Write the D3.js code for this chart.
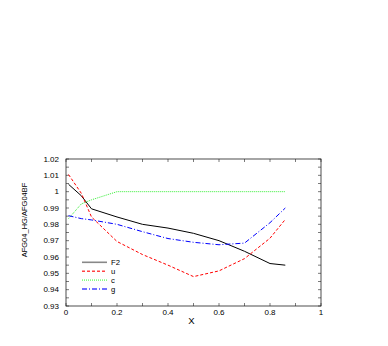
<!DOCTYPE html>
<html>
<head>
<meta charset="utf-8">
<script src="https://cdn.jsdelivr.net/npm/d3@7"></script>
<style>
  body { margin: 0; background: #fff; }
  svg text { font-family: "Liberation Sans", Arial, sans-serif; fill: #000; }
</style>
</head>
<body>
<div id="chart"></div>
<script>
// x positions of the computed points
const xVals = [0.01, 0.06, 0.1, 0.2, 0.3, 0.4, 0.5, 0.6, 0.7, 0.8, 0.86];

const f2 = [1.0045, 0.9975, 0.9895, 0.9845, 0.980, 0.9777, 0.9745, 0.970, 0.9635, 0.956, 0.955];
const uVals = [1.0105, 0.999, 0.9845, 0.9695, 0.9615, 0.955, 0.948, 0.9515, 0.959, 0.9715, 0.983];
const cVals = [0.9835, 0.9925, 0.995, 1.0, 1.0, 1.0, 1.0, 1.0, 1.0, 1.0, 1.0];
const gVals = [0.9853, 0.9835, 0.9827, 0.980, 0.9755, 0.9713, 0.969, 0.9675, 0.9685, 0.981, 0.990];

const xTicks = [0, 0.2, 0.4, 0.6, 0.8, 1];
const yTicks = [0.93, 0.94, 0.95, 0.96, 0.97, 0.98, 0.99, 1.0, 1.01, 1.02];

const series = [
  { name: "F2", values: f2, color: "#000000", legendColor: "#888", dash: null },
  { name: "u", values: uVals, color: "#ff0000", legendColor: "#ff4444", dash: "3,2" },
  { name: "c", values: cVals, color: "#33ee33", legendColor: "#88ff88", dash: "1,1" },
  { name: "g", values: gVals, color: "#0000ff", legendColor: "#4444ff", dash: "5,2,1,2" }
];

const width = 388, height = 346;
const plot = { left: 66, right: 321, top: 159, bottom: 306 };

const svg = d3.select("#chart").append("svg")
  .attr("width", width)
  .attr("height", height);

const x = d3.scaleLinear().domain([0, 1]).range([plot.left, plot.right]);
const y = d3.scaleLinear().domain([0.93, 1.02]).range([plot.bottom, plot.top]);

// frame
svg.append("rect")
  .attr("x", plot.left).attr("y", plot.top)
  .attr("width", plot.right - plot.left).attr("height", plot.bottom - plot.top)
  .attr("fill", "none").attr("stroke", "#222").attr("stroke-width", 0.8);

// inward ticks on all four sides
const xMinor = d3.range(0, 11).map(i => i / 10);
const yMinor = d3.range(0, 19).map(i => 0.93 + i * 0.005);

const tickG = svg.append("g").attr("stroke", "#222").attr("stroke-width", 0.6);
xMinor.forEach(v => {
  tickG.append("line").attr("x1", x(v)).attr("x2", x(v)).attr("y1", plot.bottom).attr("y2", plot.bottom - 3);
  tickG.append("line").attr("x1", x(v)).attr("x2", x(v)).attr("y1", plot.top).attr("y2", plot.top + 3);
});
yMinor.forEach(v => {
  tickG.append("line").attr("x1", plot.left).attr("x2", plot.left + 3).attr("y1", y(v)).attr("y2", y(v));
  tickG.append("line").attr("x1", plot.right).attr("x2", plot.right - 3).attr("y1", y(v)).attr("y2", y(v));
});

// tick labels
svg.append("g").selectAll("text")
  .data(xTicks)
  .enter()
  .append("text")
  .attr("x", d => x(d))
  .attr("y", plot.bottom + 8.5)
  .attr("text-anchor", "middle")
  .attr("font-size", 8)
  .text(d => d3.format("~g")(d));

svg.append("g").selectAll("text")
  .data(yTicks)
  .enter()
  .append("text")
  .attr("x", plot.left - 7)
  .attr("y", d => y(d) + 2.8)
  .attr("text-anchor", "end")
  .attr("font-size", 8)
  .text(d => d3.format("~g")(d));

// axis titles
svg.append("text")
  .attr("x", 191.5).attr("y", 323.5)
  .attr("text-anchor", "middle")
  .attr("font-size", 9.5)
  .text("X");

svg.append("text")
  .attr("transform", "translate(26.5,220) rotate(-90)")
  .attr("text-anchor", "middle")
  .attr("font-size", 7.5)
  .text("AFG04_HG/AFG04BF");

// curves
const line = d3.line()
  .x((d, i) => x(xVals[i]))
  .y(d => y(d));

svg.append("g").selectAll("path")
  .data(series)
  .enter()
  .append("path")
  .attr("d", d => line(d.values))
  .attr("fill", "none")
  .attr("stroke", d => d.color)
  .attr("stroke-width", 1)
  .attr("stroke-dasharray", d => d.dash);

// legend
const legend = svg.append("g").selectAll("g")
  .data(series)
  .enter()
  .append("g")
  .attr("transform", (d, i) => `translate(82,${262.3 + i * 8.9})`);

legend.append("line")
  .attr("x1", 0).attr("x2", 25)
  .attr("stroke", d => d.legendColor)
  .attr("stroke-width", 1.6)
  .attr("stroke-dasharray", d => d.dash);

legend.append("text")
  .attr("x", 29).attr("y", 2.8)
  .attr("font-size", 7.7)
  .text(d => d.name);
</script>
</body>
</html>
